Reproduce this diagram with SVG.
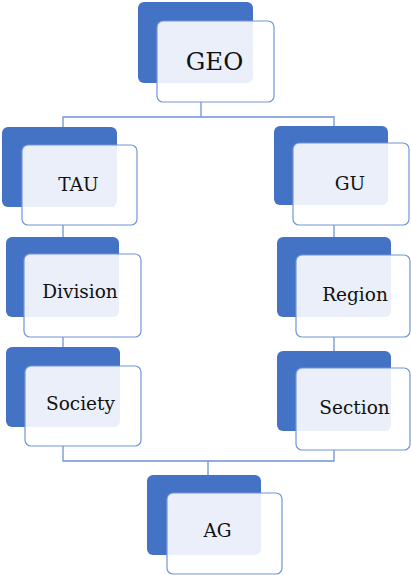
<svg xmlns="http://www.w3.org/2000/svg" width="411" height="575" viewBox="0 0 411 575">
<style>
.back{fill:#4472C4;}
.front{fill:#ffffff;fill-opacity:0.89;stroke:#7396D6;stroke-width:1.2;}
.lbl{font-family:"DejaVu Serif","Liberation Serif",serif;font-size:18.5px;fill:#111111;text-anchor:middle;}
.conn{fill:none;stroke:#6E93D5;stroke-width:1.3;}
</style>
<rect width="411" height="575" fill="#ffffff"/>
<g id="connectors">
<polyline class="conn" points="201,102 201,117"/>
<polyline class="conn" points="63,127 63,117 334,117 334,126"/>
<polyline class="conn" points="63,225 63,237"/>
<polyline class="conn" points="63,337 63,347"/>
<polyline class="conn" points="334,225 334,237"/>
<polyline class="conn" points="334,337 334,351"/>
<polyline class="conn" points="63,446 63,461 334,461 334,450"/>
<polyline class="conn" points="208,461 208,475"/>
</g>
<g id="GEO">
<rect class="back" x="138" y="2" width="115" height="81" rx="6"/>
<rect class="front" x="157" y="21" width="117" height="81" rx="6"/>
<text class="lbl" x="214.5" y="70" style="font-size:24.5px">GEO</text>
</g>
<g id="TAU">
<rect class="back" x="2" y="127" width="115" height="80" rx="6"/>
<rect class="front" x="22" y="145" width="115" height="80" rx="6"/>
<text class="lbl" x="78.5" y="191">TAU</text>
</g>
<g id="GU">
<rect class="back" x="274" y="126" width="114" height="79" rx="6"/>
<rect class="front" x="293" y="143" width="116" height="82" rx="6"/>
<text class="lbl" x="350" y="190">GU</text>
</g>
<g id="Division">
<rect class="back" x="6" y="237" width="113" height="80" rx="6"/>
<rect class="front" x="24" y="254" width="117" height="83" rx="6"/>
<text class="lbl" x="80" y="298">Division</text>
</g>
<g id="Society">
<rect class="back" x="6" y="347" width="114" height="80" rx="6"/>
<rect class="front" x="25" y="366" width="116" height="80" rx="6"/>
<text class="lbl" x="80.5" y="410">Society</text>
</g>
<g id="Region">
<rect class="back" x="277" y="237" width="114" height="80" rx="6"/>
<rect class="front" x="296" y="255" width="114" height="82" rx="6"/>
<text class="lbl" x="355" y="301">Region</text>
</g>
<g id="Section">
<rect class="back" x="277" y="351" width="114" height="80" rx="6"/>
<rect class="front" x="296" y="368" width="114" height="82" rx="6"/>
<text class="lbl" x="354.5" y="414">Section</text>
</g>
<g id="AG">
<rect class="back" x="147" y="475" width="114" height="80" rx="6"/>
<rect class="front" x="167" y="493" width="115" height="81" rx="6"/>
<text class="lbl" x="217.5" y="537">AG</text>
</g>
</svg>
